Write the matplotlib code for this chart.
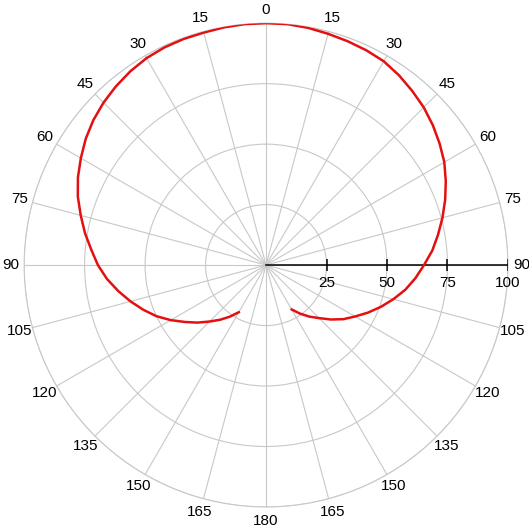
import numpy as np
import matplotlib.pyplot as plt

plt.rcParams['font.family'] = ['Liberation Sans', 'DejaVu Sans']

# pattern (degrees clockwise from top, radius 0-100)
angles_deg = [-150, -145, -140, -135, -130, -125, -120, -115, -110, -105,
              -100, -95, -90, -85, -80, -75, -70, -65, -60, -55,
              -50, -45, -40, -35, -30, -25, -20, -15, -10, -5,
              0, 5, 10, 15, 20, 25, 30, 35, 40, 45,
              50, 55, 60, 65, 70, 75, 80, 85, 90, 95,
              100, 105, 110, 115, 120, 125, 130, 135, 140, 145, 150]
gain = [22.5, 26, 29.5, 33, 37, 41, 45.5, 50, 54, 58,
        62, 66, 69.5, 72.5, 76, 79.3, 82.8, 85.8, 88.4, 91,
        93.2, 95, 96.5, 97.8, 98.8, 99.3, 99.5, 99.5, 99.8, 100,
        100, 100, 99.6, 99, 98.5, 98, 97.3, 95.8, 94, 92.2,
        90, 87.6, 85.1, 82, 78.8, 75.5, 72.2, 69, 65.3, 62,
        58.5, 54.5, 50.5, 46.5, 42.5, 39, 35, 31, 27.8, 24.5, 21.2]

grid_angles = list(range(0, 360, 15))
r_ticks = [25, 50, 75, 100]

grey = '#c8c8c8'

fig = plt.figure(figsize=(5.29, 5.27), dpi=100)
ax = fig.add_axes([0.0454, 0.038, 0.915, 0.918], projection='polar')
ax.set_theta_zero_location('N')
ax.set_theta_direction(-1)
ax.set_ylim(0, 100)

ax.set_thetagrids(grid_angles, labels=[])
ax.set_rgrids(r_ticks, labels=[])
ax.grid(True, color=grey, linewidth=0.8)
ax.spines['polar'].set_color(grey)
ax.spines['polar'].set_linewidth(0.8)

# angle labels, mirrored on both sides
for a in grid_angles:
    lab = a if a <= 180 else 360 - a
    ax.text(np.deg2rad(a), 105.6, str(lab), ha='center', va='center',
            fontsize=11, clip_on=False)

# radial axis along 90 deg
ax.plot([np.pi / 2, np.pi / 2], [0, 100], color='k', linewidth=1.1, zorder=3)
ax.plot([np.pi / 2] * len(r_ticks), r_ticks, linestyle='none', marker='|',
        markersize=8, markeredgewidth=1.1, color='k', zorder=3)
for r in r_ticks:
    ax.annotate(str(r), xy=(np.pi / 2, r), xytext=(0, -8), textcoords='offset points',
                ha='center', va='top', fontsize=11, annotation_clip=False)

ax.plot(np.deg2rad(angles_deg), gain, color='#e41010', linewidth=1.8, zorder=4)

fig.savefig('out.png', dpi=100)
